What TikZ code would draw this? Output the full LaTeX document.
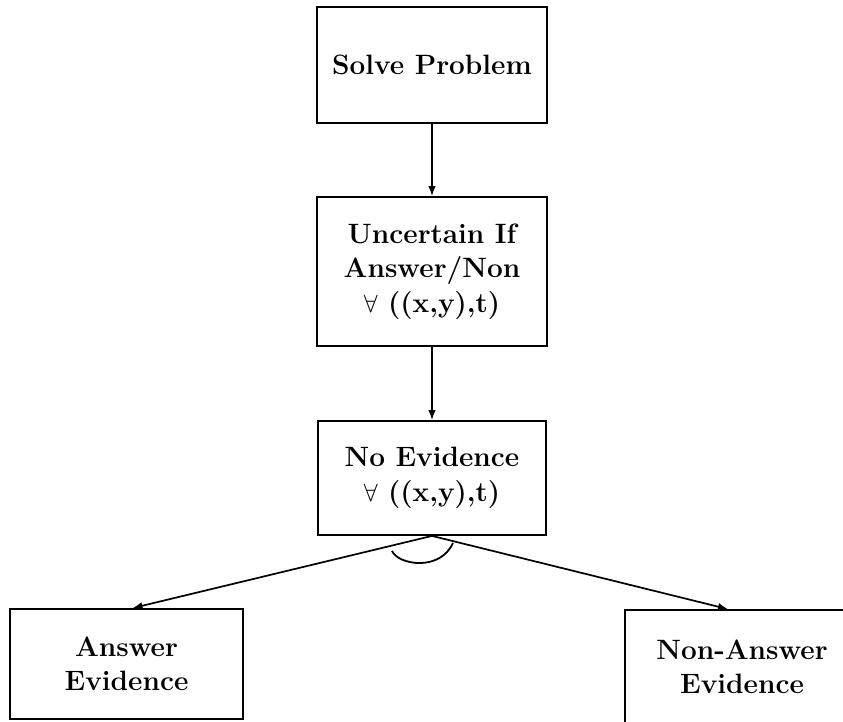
\documentclass[tikz,border=0pt]{standalone}
\usetikzlibrary{arrows.meta,calc}
\begin{document}
\begin{tikzpicture}[x=1pt,y=-1pt,
  box/.style={draw,line width=1.8pt,inner sep=0pt,align=center,
    font=\fontsize{28}{34.5}\selectfont\bfseries},
  link/.style={line width=1.7pt,-{Latex[length=10pt,width=7.5pt]}}]
  \useasboundingbox (0,0) rectangle (843,721);
  \begin{scope}
  \clip (0,0) rectangle (843,721);
  % decision chain
  \node[box,minimum width=230pt,minimum height=116pt] (solve) at (432,65) {Solve Problem};
  \node[box,minimum width=230pt,minimum height=149pt] (unc) at (432,271.5)
    {Uncertain If\\Answer/Non\\$\forall$ ((x,y),t)};
  \node[box,minimum width=228pt,minimum height=114pt] (noev) at (432,478)
    {No Evidence\\$\forall$ ((x,y),t)};
  % evidence leaves
  \node[box,minimum width=233pt,minimum height=110pt] (ans) at (126.5,664)
    {Answer\\Evidence};
  \node[box,minimum width=234pt,minimum height=114pt] (non) at (742,667)
    {Non-Answer\\Evidence};
  \end{scope}
  % connectors
  \draw[link] (solve.south) -- (unc.north);
  \draw[link] (unc.south) -- (noev.north);
  \coordinate (fork) at (noev.south);
  \draw[link] (fork) -- ([xshift=6pt]ans.north);
  \draw[link] (fork) -- ([xshift=-14pt]non.north);
  % conjunction arc
  \draw[line width=1.8pt] ($(fork)+(-40,15)$) .. controls ($(fork)+(-34,29)$) and ($(fork)+(8,36)$) .. ($(fork)+(21,7)$);
\end{tikzpicture}
\end{document}
